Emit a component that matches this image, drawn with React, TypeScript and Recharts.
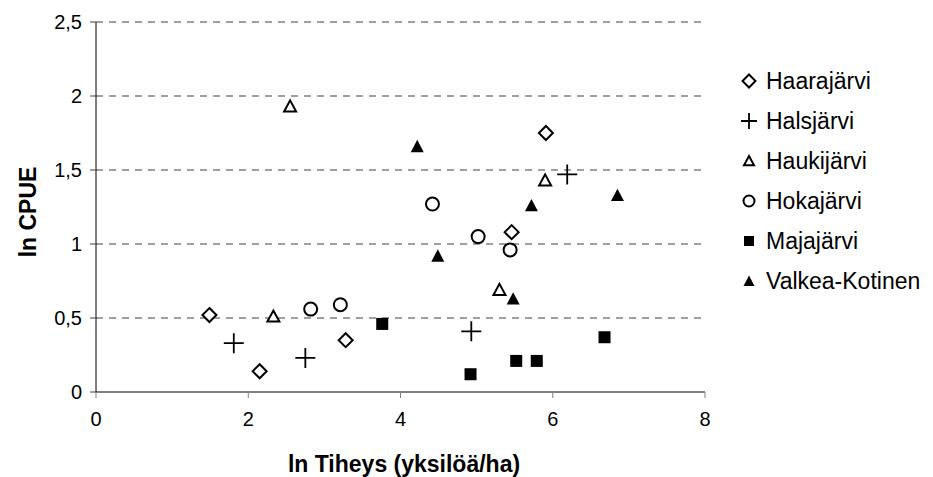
import { FC } from 'react'
import { ScatterChart, Scatter, XAxis, YAxis, CartesianGrid } from 'recharts'

// ln(density) vs ln(CPUE) per lake
const haarajarvi = [
  { x: 1.49, y: 0.52 },
  { x: 2.15, y: 0.14 },
  { x: 3.28, y: 0.35 },
  { x: 5.46, y: 1.08 },
  { x: 5.91, y: 1.75 },
]
const halsjarvi = [
  { x: 1.81, y: 0.33 },
  { x: 2.75, y: 0.23 },
  { x: 4.93, y: 0.41 },
  { x: 6.19, y: 1.47 },
]
const haukijarvi = [
  { x: 2.33, y: 0.51 },
  { x: 2.55, y: 1.93 },
  { x: 5.3, y: 0.69 },
  { x: 5.9, y: 1.43 },
]
const hokajarvi = [
  { x: 2.82, y: 0.56 },
  { x: 3.21, y: 0.59 },
  { x: 4.42, y: 1.27 },
  { x: 5.02, y: 1.05 },
  { x: 5.44, y: 0.96 },
]
const majajarvi = [
  { x: 3.76, y: 0.46 },
  { x: 4.92, y: 0.12 },
  { x: 5.52, y: 0.21 },
  { x: 5.79, y: 0.21 },
  { x: 6.68, y: 0.37 },
]
const valkeaKotinen = [
  { x: 4.22, y: 1.66 },
  { x: 4.49, y: 0.92 },
  { x: 5.48, y: 0.63 },
  { x: 5.72, y: 1.26 },
  { x: 6.85, y: 1.33 },
]

const xTicks = [0, 2, 4, 6, 8]
const yTicks = [0, 0.5, 1, 1.5, 2, 2.5]

const font = '"Liberation Sans", Arial, sans-serif'

type MarkerProps = { cx?: number; cy?: number; s?: number }

const Diamond: FC<MarkerProps> = ({ cx = 0, cy = 0, s = 7 }) => (
  <path
    d={`M${cx},${cy - s}L${cx + s},${cy}L${cx},${cy + s}L${cx - s},${cy}Z`}
    fill="#fff"
    stroke="#000"
    strokeWidth={2}
  />
)
const Plus: FC<MarkerProps> = ({ cx = 0, cy = 0, s = 10 }) => (
  <path
    d={`M${cx - s},${cy}H${cx + s}M${cx},${cy - s}V${cy + s}`}
    stroke="#000"
    strokeWidth={1.8}
  />
)
const OpenTriangle: FC<MarkerProps> = ({ cx = 0, cy = 0, s = 6 }) => (
  <path
    d={`M${cx},${cy - s}L${cx + s},${cy + s * 0.85}L${cx - s},${cy + s * 0.85}Z`}
    fill="#fff"
    stroke="#000"
    strokeWidth={2}
  />
)
const Circle: FC<MarkerProps> = ({ cx = 0, cy = 0, s = 6.5 }) => (
  <circle cx={cx} cy={cy} r={s} fill="#fff" stroke="#000" strokeWidth={2} />
)
const Square: FC<MarkerProps> = ({ cx = 0, cy = 0, s = 6 }) => (
  <rect x={cx - s} y={cy - s} width={s * 2} height={s * 2} fill="#000" />
)
const FilledTriangle: FC<MarkerProps> = ({ cx = 0, cy = 0, s = 6.5 }) => (
  <path
    d={`M${cx},${cy - s}L${cx + s},${cy + s * 0.9}L${cx - s},${cy + s * 0.9}Z`}
    fill="#000"
  />
)

const legendItems = [
  { name: 'Haarajärvi', icon: <Diamond cx={9} cy={10} s={6.5} /> },
  { name: 'Halsjärvi', icon: <Plus cx={9} cy={10} s={8} /> },
  { name: 'Haukijärvi', icon: <OpenTriangle cx={9} cy={10} s={5} /> },
  { name: 'Hokajärvi', icon: <Circle cx={9} cy={10} s={5.5} /> },
  { name: 'Majajärvi', icon: <Square cx={9} cy={10} s={5} /> },
  { name: 'Valkea-Kotinen', icon: <FilledTriangle cx={9} cy={10} s={5.5} /> },
]

const fmt = (v: number) => String(v).replace('.', ',')

const YLabel = () => (
  <text
    x={20}
    y={204}
    transform="rotate(-90, 20, 204)"
    textAnchor="middle"
    dominantBaseline="central"
    fontFamily={font}
    fontWeight="bold"
    fontSize={23}
    fill="#000"
  >
    ln CPUE
  </text>
)

const XLabel = () => (
  <text
    x={396}
    y={456}
    textAnchor="middle"
    dominantBaseline="central"
    fontFamily={font}
    fontWeight="bold"
    fontSize={23}
    fill="#000"
  >
    ln Tiheys (yksilöä/ha)
  </text>
)

const App: FC = () => {
  return (
    <div style={{ position: 'relative', width: 917, height: 469, fontFamily: font }}>
      <ScatterChart
        width={917}
        height={469}
        margin={{ top: 14, right: 220, bottom: 0, left: 0 }}
      >
        <CartesianGrid
          vertical={false}
          stroke="#808080"
          strokeWidth={1.5}
          strokeDasharray="7 6"
        />
        <XAxis
          type="number"
          dataKey="x"
          domain={[0, 8]}
          ticks={xTicks}
          height={85}
          axisLine={{ stroke: '#808080', strokeWidth: 2 }}
          tickLine={{ stroke: '#808080' }}
          tickSize={6}
          tickMargin={14}
          tick={{ fill: '#000', fontSize: 20, fontFamily: font }}
          label={{ content: XLabel }}
        />
        <YAxis
          type="number"
          dataKey="y"
          domain={[0, 2.5]}
          ticks={yTicks}
          width={88}
          tickFormatter={fmt}
          axisLine={{ stroke: '#000', strokeWidth: 1 }}
          tickLine={{ stroke: '#404040' }}
          tickSize={6}
          tickMargin={8}
          tick={{ fill: '#000', fontSize: 20, fontFamily: font }}
          label={{ content: YLabel }}
        />
        <Scatter
          name="Haarajärvi"
          data={haarajarvi}
          isAnimationActive={false}
          shape={(p: any) => <Diamond cx={p.cx} cy={p.cy} />}
        />
        <Scatter
          name="Halsjärvi"
          data={halsjarvi}
          isAnimationActive={false}
          shape={(p: any) => <Plus cx={p.cx} cy={p.cy} />}
        />
        <Scatter
          name="Haukijärvi"
          data={haukijarvi}
          isAnimationActive={false}
          shape={(p: any) => <OpenTriangle cx={p.cx} cy={p.cy} />}
        />
        <Scatter
          name="Hokajärvi"
          data={hokajarvi}
          isAnimationActive={false}
          shape={(p: any) => <Circle cx={p.cx} cy={p.cy} />}
        />
        <Scatter
          name="Majajärvi"
          data={majajarvi}
          isAnimationActive={false}
          shape={(p: any) => <Square cx={p.cx} cy={p.cy} />}
        />
        <Scatter
          name="Valkea-Kotinen"
          data={valkeaKotinen}
          isAnimationActive={false}
          shape={(p: any) => <FilledTriangle cx={p.cx} cy={p.cy} />}
        />
      </ScatterChart>
      <div style={{ position: 'absolute', left: 732, top: 53 }}>
        {legendItems.map((it) => (
          <div
            key={it.name}
            style={{ display: 'flex', alignItems: 'center', height: 40 }}
          >
            <svg width={18} height={20} style={{ marginRight: 8 }}>
              {it.icon}
            </svg>
            <span style={{ fontSize: 23, color: '#000', whiteSpace: 'nowrap' }}>
              {it.name}
            </span>
          </div>
        ))}
      </div>
    </div>
  )
}

export default App
